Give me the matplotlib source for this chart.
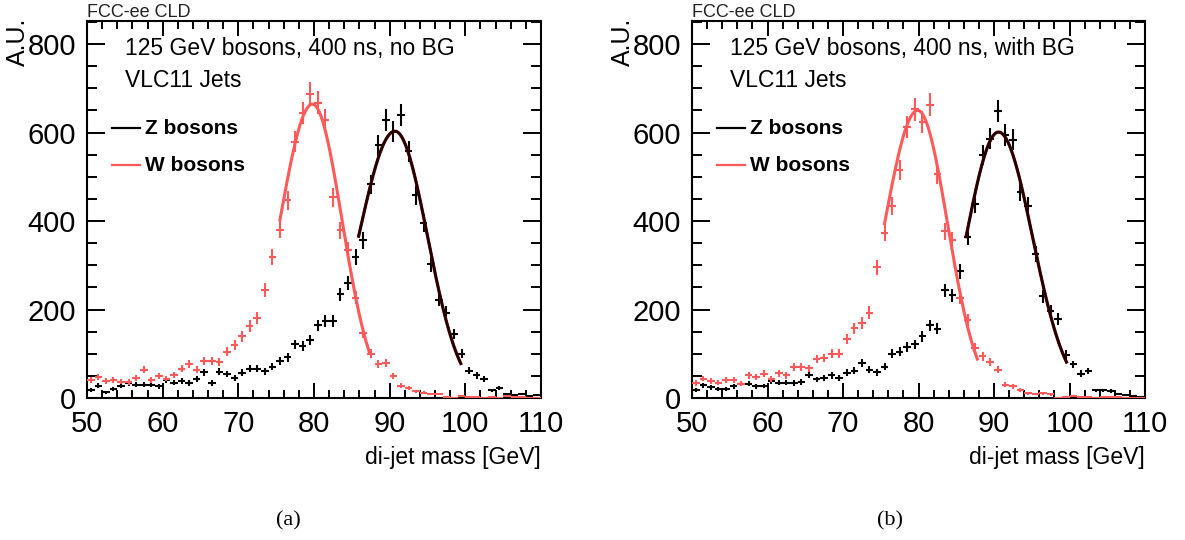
import numpy as np
import matplotlib
matplotlib.use("Agg")
import matplotlib.pyplot as plt
from matplotlib.ticker import MultipleLocator

plt.rcParams['font.family'] = ['Liberation Sans', 'DejaVu Sans']

# ---------------- data ----------------
bin_edges = np.arange(50.0, 111.0, 1.0)           # 1 GeV bins, 50..110
mass_centers = 0.5 * (bin_edges[:-1] + bin_edges[1:])

# (a) no background
z_nobg = [19, 28, 13, 20, 28, 34, 30, 30, 30, 26,
          40, 35, 39, 34, 43, 58, 34, 59, 54, 46,
          57, 66, 66, 60, 71, 83, 92, 121, 117, 132,
          164, 174, 174, 234, 260, 319, 356, 483, 571, 629,
          602, 639, 558, 458, 396, 302, 222, 193, 145, 100,
          62, 51, 43, 17, 22, 9, 7, 9, 4, 6]
w_nobg = [41, 48, 39, 41, 37, 36, 46, 64, 41, 49,
          44, 52, 66, 77, 64, 84, 84, 81, 105, 120,
          139, 163, 181, 245, 319, 380, 447, 579, 644, 687,
          667, 628, 454, 379, 335, 227, 147, 100, 77, 80,
          49, 28, 23, 15, 12, 9, 9, 3, 1, 5,
          2, 2, 0.5, 3, 1, 4, 3, 2, 1, 1]

# (b) with background
z_bg = [18, 29, 24, 20, 20, 26, 32, 32, 26, 27,
        38, 35, 35, 34, 36, 53, 42, 45, 51, 46,
        57, 62, 80, 64, 58, 71, 100, 104, 115, 121,
        139, 164, 157, 243, 232, 287, 364, 438, 549, 586,
        649, 594, 584, 466, 434, 325, 230, 196, 178, 98,
        76, 55, 61, 17, 17, 16, 9, 6, 4, 2]
w_bg = [34, 44, 39, 35, 41, 41, 32, 51, 48, 55,
        43, 56, 51, 70, 70, 67, 88, 91, 100, 100,
        134, 158, 170, 193, 295, 373, 434, 516, 613, 652,
        624, 663, 507, 377, 356, 227, 177, 114, 94, 81,
        64, 30, 26, 19, 11, 9, 11, 8, 1, 3,
        4, 2, 2, 1, 2, 2, 2, 1, 1, 1]

# fit results: [mean, amplitude, sigma_low, sigma_high, range_low, range_high]
z_fit_nobg = [90.7, 603, 4.8, 4.3, 85.9, 99.4]
w_fit_nobg = [79.8, 664, 4.3, 3.9, 75.5, 87.3]
z_fit_bg = [90.6, 601, 4.3, 4.5, 86.3, 99.6]
w_fit_bg = [79.9, 650, 4.4, 3.95, 75.5, 87.8]

panel_titles = ["125 GeV bosons, 400 ns, no BG", "125 GeV bosons, 400 ns, with BG"]
jet_label = "VLC11 Jets"
legend_labels = ["Z bosons", "W bosons"]
experiment_label = "FCC-ee CLD"
y_title = "A.U."
x_title = "di-jet mass [GeV]"
captions = ["(a)", "(b)"]

RED = '#ff5a5a'
ZFIT = '#1a0202'


def fit_line(p):
    mean, amp, s_lo, s_hi, lo, hi = p
    x = np.linspace(lo, hi, 400)
    s = np.where(x < mean, s_lo, s_hi)
    return x, amp * np.exp(-0.5 * ((x - mean) / s) ** 2)


fig = plt.figure(figsize=(11.85, 5.4), dpi=100)
W, H = 1185, 540
axes_px = [(87, 541), (692, 1145)]
caption_px = [288, 890]
top_px, bot_px = 21, 398

datasets = [(z_nobg, w_nobg, z_fit_nobg, w_fit_nobg),
            (z_bg, w_bg, z_fit_bg, w_fit_bg)]

for i, (l, r) in enumerate(axes_px):
    ax = fig.add_axes([l / W, 1 - bot_px / H, (r - l) / W, (bot_px - top_px) / H])
    zvals, wvals, zfit, wfit = datasets[i]
    zv = np.array(zvals, float)
    wv = np.array(wvals, float)
    ax.errorbar(mass_centers, zv, xerr=0.5, yerr=np.sqrt(zv), fmt='none',
                ecolor='black', elinewidth=1.5, capsize=0, zorder=3)
    xf, yf = fit_line(zfit)
    ax.plot(xf, yf, color='#7a0000', lw=2.3, zorder=4)
    ax.plot(xf, yf, color=ZFIT, lw=1.7, zorder=4.1)
    ax.errorbar(mass_centers, wv, xerr=0.5, yerr=np.sqrt(wv), fmt='none',
                ecolor=RED, elinewidth=1.5, capsize=0, zorder=5)
    xf, yf = fit_line(wfit)
    ax.plot(xf, yf, color=RED, lw=2.2, zorder=6)

    ax.set_xlim(50, 110)
    ax.set_ylim(0, 852)
    ax.xaxis.set_major_locator(MultipleLocator(10))
    ax.xaxis.set_minor_locator(MultipleLocator(2))
    ax.yaxis.set_major_locator(MultipleLocator(200))
    ax.yaxis.set_minor_locator(MultipleLocator(50))
    ax.tick_params(which='both', direction='in', top=True, right=True,
                   width=1.4, colors='black')
    ax.tick_params(axis='x', which='major', length=11, pad=9, labelsize=21)
    ax.tick_params(axis='x', which='minor', length=6)
    ax.tick_params(axis='y', which='major', length=13, pad=8, labelsize=21)
    ax.tick_params(axis='y', which='minor', length=7)
    for sp in ax.spines.values():
        sp.set_linewidth(1.5)

    ax.text(0.084, 0.928, panel_titles[i], transform=ax.transAxes,
            fontsize=16.5, ha='left', va='center')
    ax.text(0.084, 0.843, jet_label, transform=ax.transAxes,
            fontsize=16.5, ha='left', va='center')

    # legend
    for lab, col, yy in zip(legend_labels, ['black', RED], [0.716, 0.618]):
        ax.plot([0.055, 0.117], [yy, yy], color=col, lw=1.6,
                transform=ax.transAxes, clip_on=False)
        ax.text(0.128, yy, lab, transform=ax.transAxes, fontsize=15,
                fontweight='bold', ha='left', va='center')

    ax.text(0.0, 1.011, experiment_label, transform=ax.transAxes,
            fontsize=13, ha='left', va='baseline', color='#222222')
    ax.text(-0.152, 1.008, y_title, transform=ax.transAxes, rotation=90,
            fontsize=18, ha='center', va='top')
    ax.text(1.0, -0.157, x_title, transform=ax.transAxes,
            fontsize=16.5, ha='right', va='center')

    fig.text(caption_px[i] / W, 1 - 521 / H, captions[i],
             family=['Liberation Serif', 'DejaVu Serif'], fontsize=16,
             ha='center', va='center')

fig.savefig('out.png', dpi=100)
